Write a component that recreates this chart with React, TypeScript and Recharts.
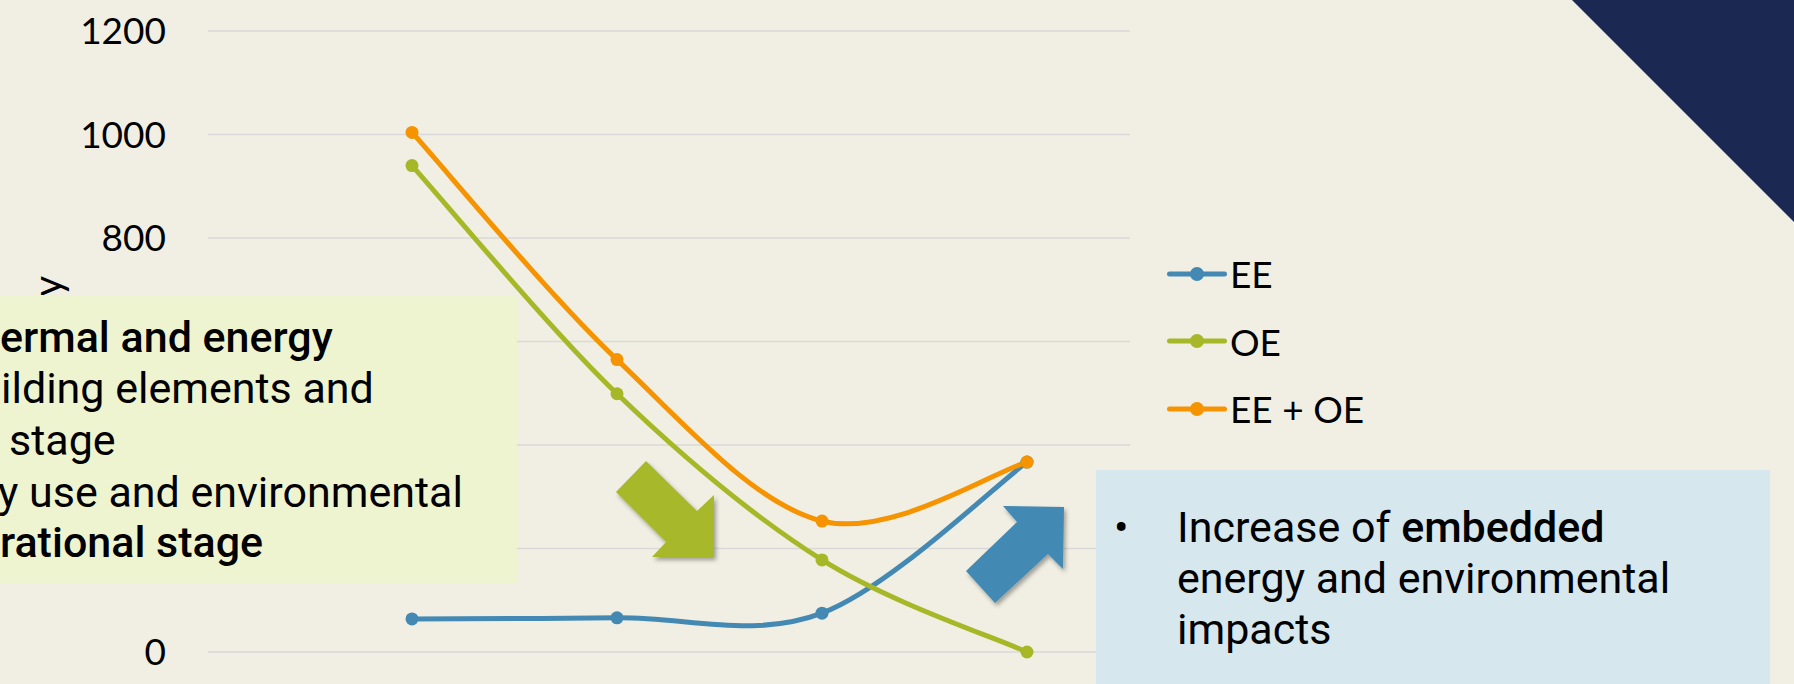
import React from 'react';
import { LineChart, Line, XAxis, YAxis, CartesianGrid, Legend } from 'recharts';

const categories = ['1', '2', '3', '4'];
const eeValues = [64, 66, 75, 367];
const oeValues = [940, 499, 178, 0];
const totalValues = [1004, 565, 253, 367];
const yTicks = [0, 200, 400, 600, 800, 1000, 1200];

const data = categories.map((name, i) => ({
  name,
  ee: eeValues[i],
  oe: oeValues[i],
  total: totalValues[i],
}));

const SERIES = [
  { key: 'ee', name: 'EE', color: '#4389B4' },
  { key: 'oe', name: 'OE', color: '#A6B727' },
  { key: 'total', name: 'EE + OE', color: '#F59300' },
];

// Excel-like smoothing (uniform Catmull-Rom as cubic beziers)
const excelCurve = (context: any) => {
  let pts: number[][] = [];
  return {
    areaStart() {},
    areaEnd() {},
    lineStart() {
      pts = [];
    },
    point(x: number, y: number) {
      pts.push([+x, +y]);
    },
    lineEnd() {
      if (!pts.length) return;
      context.moveTo(pts[0][0], pts[0][1]);
      for (let i = 0; i < pts.length - 1; i++) {
        const p0 = pts[i - 1] || pts[i];
        const p1 = pts[i];
        const p2 = pts[i + 1];
        const p3 = pts[i + 2] || p2;
        context.bezierCurveTo(
          p1[0] + (p2[0] - p0[0]) / 6,
          p1[1] + (p2[1] - p0[1]) / 6,
          p2[0] - (p3[0] - p1[0]) / 6,
          p2[1] - (p3[1] - p1[1]) / 6,
          p2[0],
          p2[1]
        );
      }
    },
  };
};

// keep the series order (recharts sorts legend items by name)
const renderLegend = (props: any) => {
  const items = [...(props.payload || [])].sort(
    (a: any, b: any) =>
      SERIES.findIndex((s) => s.name === a.value) - SERIES.findIndex((s) => s.name === b.value)
  );
  return (
    <div style={{ display: 'flex', flexDirection: 'column' }}>
      {items.map((e: any) => (
        <div key={e.value} style={{ height: 67.5, display: 'flex', alignItems: 'center' }}>
          <svg width={60} height={20} style={{ display: 'block' }}>
            <line x1={2.5} y1={10} x2={57.5} y2={10} stroke={e.color} strokeWidth={5} strokeLinecap="round" />
            <circle cx={30} cy={10} r={7} fill={e.color} />
          </svg>
          <span style={{ fontFamily: 'Lato', fontSize: 37, lineHeight: 1, marginLeft: 3, color: '#000' }}>
            {e.value}
          </span>
        </div>
      ))}
    </div>
  );
};

const YLabel = () => (
  <text
    x={62}
    y={276}
    transform="rotate(-90, 62, 276)"
    textAnchor="end"
    fontFamily="Lato"
    fontSize={40}
    fill="#000"
  >
    Energy
  </text>
);

const App: React.FC = () => {
  return (
    <div
      style={{
        position: 'absolute',
        left: 0,
        top: 0,
        width: 1794,
        height: 684,
        overflow: 'hidden',
        background: '#F1EFE3',
      }}
    >
      <LineChart width={1794} height={684} data={data} margin={{ top: 31, right: 664, bottom: 32, left: 0 }}>
        <CartesianGrid horizontal vertical={false} stroke="#D9D9D9" strokeWidth={1.5} />
        <XAxis dataKey="name" hide scale="point" padding={{ left: 204, right: 103 }} />
        <YAxis
          width={208}
          domain={[0, 1200]}
          ticks={yTicks}
          axisLine={false}
          tickLine={false}
          tickSize={0}
          tickMargin={42}
          tick={{ fontFamily: 'Lato', fontSize: 37, fill: '#000' }}
          label={<YLabel />}
        />
        <Legend
          layout="vertical"
          align="center"
          verticalAlign="middle"
          content={renderLegend}
          wrapperStyle={{ left: 1167, top: 240, width: 300, height: 210 }}
        />
        {SERIES.map((s) => (
          <Line
            key={s.key}
            dataKey={s.key}
            name={s.name}
            type={excelCurve as any}
            stroke={s.color}
            strokeWidth={5}
            dot={{ r: 6.5, fill: s.color, stroke: s.color, strokeWidth: 0 }}
            activeDot={false}
            isAnimationActive={false}
          />
        ))}
      </LineChart>

      <svg
        width={1794}
        height={684}
        style={{ position: 'absolute', left: 0, top: 0, pointerEvents: 'none' }}
      >
        <defs>
          <filter id="shadow" x="-20%" y="-20%" width="140%" height="140%">
            <feDropShadow dx={2} dy={3} stdDeviation={2} floodColor="#000" floodOpacity={0.35} />
          </filter>
        </defs>

        {/* dark corner triangle */}
        <polygon points="1572,0 1794,0 1794,222" fill="#1B2852" />

        {/* left note box */}
        <rect x={0} y={295} width={517} height={288} fill="#EFF4D0" />
        <g fontFamily="Roboto" fontSize={43} fill="#000">
          <text x={0} y={352} fontWeight={500}>ermal and energy</text>
          <text x={1} y={403}>ilding elements and</text>
          <text x={9} y={455}>stage</text>
          <text x={-2} y={507}>y use and environmental</text>
          <text x={0} y={557} fontWeight={500}>rational stage</text>
        </g>

        {/* right note box */}
        <rect x={1096} y={470} width={674} height={230} fill="#D6E7EE" />
        <g fontFamily="Roboto" fontSize={43} fill="#000">
          <text x={1114} y={542}>•</text>
          <text x={1177} y={542}>
            Increase of <tspan fontWeight={500}>embedded</tspan>
          </text>
          <text x={1177} y={593}>energy and environmental</text>
          <text x={1177} y={644}>impacts</text>
        </g>

        {/* arrows */}
        <polygon
          points="616,492 646,461 697,511 714,495 714,557 652,557 666,542"
          fill="#A7B82A"
          filter="url(#shadow)"
        />
        <polygon
          points="966,571 1017,522 1003,506 1064,507 1063,569 1048,554 995,603"
          fill="#4389B3"
          filter="url(#shadow)"
        />
      </svg>
    </div>
  );
};

export default App;
